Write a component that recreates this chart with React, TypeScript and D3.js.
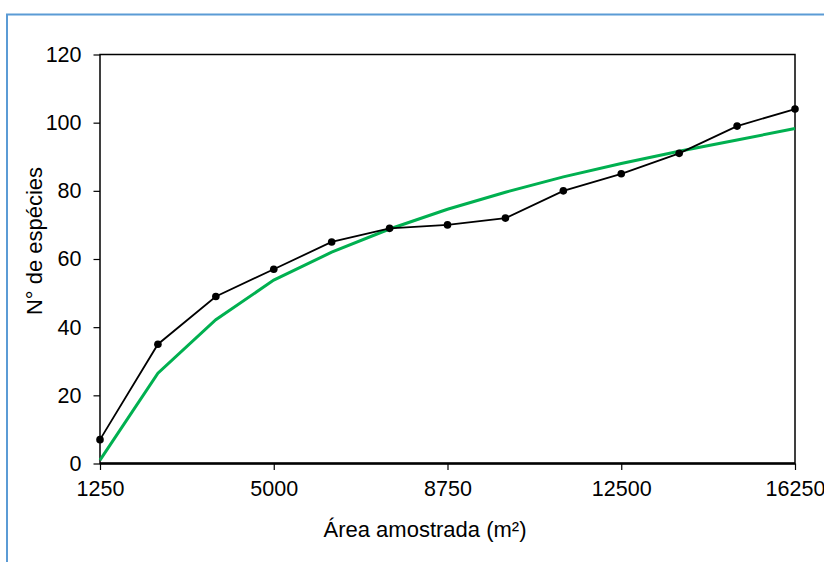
import React, { useEffect, useRef } from 'react'
import * as d3 from 'd3'

// sampled area (m²)
const areas = [1250, 2500, 3750, 5000, 6250, 7500, 8750, 10000, 11250, 12500, 13750, 15000, 16250]
// observed species count
const observed = [7, 35, 49, 57, 65, 69, 70, 72, 80, 85, 91, 99, 104]
// fitted curve
const fitted = [1, 26.5, 42.2, 53.8, 62, 68.8, 74.6, 79.6, 84.1, 88, 91.6, 94.9, 98.3]
const xTicks = [1250, 5000, 8750, 12500, 16250]
const yTicks = [0, 20, 40, 60, 80, 100, 120]

function App() {
  const svgRef = useRef<SVGSVGElement>(null)
  const W = 824
  const H = 562
  const left = 100, right = 795, top = 54.5, bottom = 463.5

  useEffect(() => {
    const svg = d3.select(svgRef.current)
    svg.selectAll('*').remove()

    const x = d3.scaleLinear().domain([1250, 16250]).range([left, right])
    const y = d3.scaleLinear().domain([0, 120]).range([bottom, top])
    const font = 'Arial, "Liberation Sans", sans-serif'

    // outer blue frame (only top/left visible)
    svg.append('path')
      .attr('d', `M7,${H + 5} L7,14.5 L${W + 5},14.5`)
      .attr('fill', 'none')
      .attr('stroke', '#5B9BD5')
      .attr('stroke-width', 2)

    // plot box
    svg.append('rect')
      .attr('x', left).attr('y', top)
      .attr('width', right - left).attr('height', bottom - top)
      .attr('fill', 'none').attr('stroke', '#000').attr('stroke-width', 1.5)

    svg.append('line')
      .attr('x1', left).attr('x2', right)
      .attr('y1', bottom).attr('y2', bottom)
      .attr('stroke', '#000').attr('stroke-width', 2.5)

    // y ticks
    const yAxis = svg.append('g').attr('transform', `translate(${left},0)`)
      .call(d3.axisLeft(y).tickValues(yTicks).tickSize(6.5).tickPadding(12).tickSizeOuter(0))
    yAxis.select('.domain').remove()
    yAxis.selectAll('line').attr('stroke', '#000').attr('stroke-width', 1.2)
    yAxis.selectAll('text').attr('font-size', 21.5).attr('font-family', font).attr('fill', '#000')

    // x ticks
    const xAxis = svg.append('g').attr('transform', `translate(0,${bottom})`)
      .call(d3.axisBottom(x).tickValues(xTicks).tickSize(6.5).tickPadding(11).tickSizeOuter(0).tickFormat(d3.format('d')))
    xAxis.select('.domain').remove()
    xAxis.selectAll('line').attr('stroke', '#000').attr('stroke-width', 1.2)
    xAxis.selectAll('text').attr('font-size', 21.5).attr('font-family', font).attr('fill', '#000')

    // titles
    svg.append('text')
      .attr('x', 425).attr('y', 537)
      .attr('text-anchor', 'middle')
      .attr('font-size', 22).attr('font-family', font)
      .text('Área amostrada (m²)')

    svg.append('text')
      .attr('transform', 'translate(42,241) rotate(-90)')
      .attr('text-anchor', 'middle')
      .attr('font-size', 22).attr('font-family', font)
      .text('N° de espécies')

    // fitted curve
    svg.append('path')
      .datum(fitted)
      .attr('fill', 'none')
      .attr('stroke', '#00B050')
      .attr('stroke-width', 3)
      .attr('d', d3.line<number>().x((d, i) => x(areas[i])).y(d => y(d)))

    // observed line + points
    svg.append('path')
      .datum(observed)
      .attr('fill', 'none')
      .attr('stroke', '#000')
      .attr('stroke-width', 1.8)
      .attr('d', d3.line<number>().x((d, i) => x(areas[i])).y(d => y(d)))

    svg.append('g').selectAll('circle')
      .data(observed)
      .join('circle')
      .attr('cx', (d, i) => x(areas[i]))
      .attr('cy', d => y(d))
      .attr('r', 3.8)
      .attr('fill', '#000')
  }, [])

  return (
    <svg ref={svgRef} width={W} height={H}
      style={{ position: 'absolute', left: 0, top: 0, background: '#fff' }} />
  )
}

export default App
